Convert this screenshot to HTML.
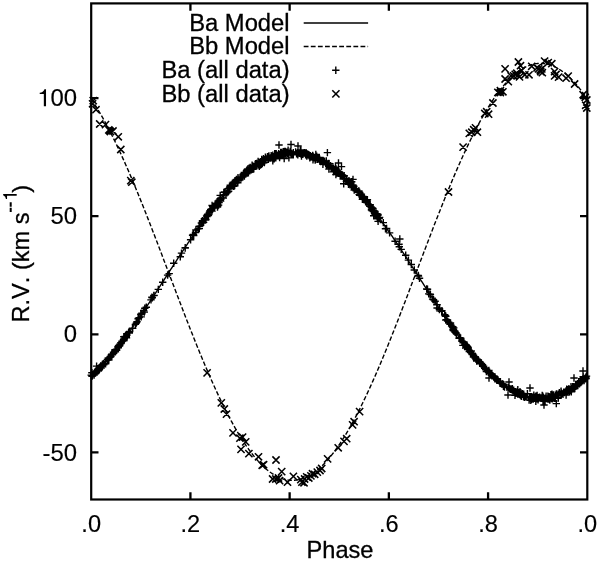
<!DOCTYPE html><html><head><meta charset="utf-8"><title>RV</title>
<style>html,body{margin:0;padding:0;background:#fff;}svg{display:block;will-change:transform;}text{font-kerning:none;font-family:"Liberation Sans",sans-serif;fill:#000;stroke:#000;stroke-width:0.15;}text.b{stroke-width:0.3;}</style></head><body>
<svg width="600" height="564" viewBox="0 0 600 564">
<rect x="0" y="0" width="600" height="564" fill="#fff"/>
<path d="M91.20,376.43 L92.44,375.30 L93.68,374.15 L94.92,372.98 L96.16,371.78 L97.40,370.56 L98.64,369.31 L99.88,368.04 L101.12,366.74 L102.36,365.43 L103.60,364.09 L104.84,362.72 L106.08,361.34 L107.32,359.94 L108.56,358.51 L109.80,357.06 L111.04,355.59 L112.28,354.11 L113.52,352.60 L114.76,351.07 L116.00,349.53 L117.25,347.97 L118.49,346.39 L119.73,344.79 L120.97,343.17 L122.21,341.54 L123.45,339.89 L124.69,338.23 L125.93,336.55 L127.17,334.85 L128.41,333.14 L129.65,331.42 L130.89,329.68 L132.13,327.93 L133.37,326.17 L134.61,324.40 L135.85,322.61 L137.09,320.81 L138.33,319.00 L139.57,317.18 L140.81,315.35 L142.05,313.52 L143.29,311.67 L144.53,309.81 L145.77,307.95 L147.01,306.08 L148.25,304.20 L149.49,302.31 L150.73,300.42 L151.97,298.52 L153.21,296.62 L154.45,294.72 L155.69,292.80 L156.93,290.89 L158.17,288.97 L159.41,287.05 L160.65,285.13 L161.89,283.20 L163.13,281.28 L164.37,279.35 L165.62,277.42 L166.86,275.50 L168.10,273.57 L169.34,271.64 L170.58,269.72 L171.82,267.80 L173.06,265.88 L174.30,263.96 L175.54,262.05 L176.78,260.14 L178.02,258.23 L179.26,256.33 L180.50,254.44 L181.74,252.55 L182.98,250.67 L184.22,248.79 L185.46,246.92 L186.70,245.06 L187.94,243.21 L189.18,241.36 L190.42,239.53 L191.66,237.70 L192.90,235.88 L194.14,234.08 L195.38,232.28 L196.62,230.50 L197.86,228.72 L199.10,226.96 L200.34,225.21 L201.58,223.47 L202.82,221.75 L204.06,220.04 L205.30,218.35 L206.54,216.66 L207.78,215.00 L209.02,213.35 L210.26,211.71 L211.50,210.09 L212.74,208.48 L213.98,206.90 L215.22,205.33 L216.47,203.77 L217.71,202.24 L218.95,200.72 L220.19,199.22 L221.43,197.74 L222.67,196.28 L223.91,194.84 L225.15,193.42 L226.39,192.02 L227.63,190.63 L228.87,189.27 L230.11,187.93 L231.35,186.62 L232.59,185.32 L233.83,184.04 L235.07,182.79 L236.31,181.56 L237.55,180.35 L238.79,179.17 L240.03,178.01 L241.27,176.87 L242.51,175.76 L243.75,174.67 L244.99,173.60 L246.23,172.56 L247.47,171.55 L248.71,170.56 L249.95,169.59 L251.19,168.65 L252.43,167.74 L253.67,166.85 L254.91,165.98 L256.15,165.15 L257.39,164.34 L258.63,163.55 L259.87,162.80 L261.11,162.07 L262.35,161.37 L263.59,160.69 L264.83,160.04 L266.08,159.42 L267.32,158.83 L268.56,158.26 L269.80,157.73 L271.04,157.22 L272.28,156.74 L273.52,156.28 L274.76,155.86 L276.00,155.46 L277.24,155.10 L278.48,154.76 L279.72,154.45 L280.96,154.17 L282.20,153.92 L283.44,153.69 L284.68,153.50 L285.92,153.33 L287.16,153.20 L288.40,153.09 L289.64,153.01 L290.88,152.96 L292.12,152.94 L293.36,152.95 L294.60,152.99 L295.84,153.05 L297.08,153.15 L298.32,153.27 L299.56,153.43 L300.80,153.61 L302.04,153.82 L303.28,154.06 L304.52,154.33 L305.76,154.63 L307.00,154.96 L308.24,155.31 L309.48,155.70 L310.72,156.11 L311.96,156.55 L313.20,157.02 L314.44,157.52 L315.69,158.05 L316.93,158.60 L318.17,159.18 L319.41,159.79 L320.65,160.43 L321.89,161.09 L323.13,161.78 L324.37,162.50 L325.61,163.25 L326.85,164.02 L328.09,164.82 L329.33,165.65 L330.57,166.50 L331.81,167.38 L333.05,168.28 L334.29,169.21 L335.53,170.17 L336.77,171.15 L338.01,172.15 L339.25,173.18 L340.49,174.24 L341.73,175.32 L342.97,176.42 L344.21,177.55 L345.45,178.70 L346.69,179.88 L347.93,181.08 L349.17,182.30 L350.41,183.54 L351.65,184.81 L352.89,186.09 L354.13,187.40 L355.37,188.74 L356.61,190.09 L357.85,191.46 L359.09,192.85 L360.33,194.27 L361.57,195.70 L362.81,197.15 L364.06,198.63 L365.30,200.12 L366.54,201.63 L367.78,203.16 L369.02,204.70 L370.26,206.27 L371.50,207.85 L372.74,209.45 L373.98,211.06 L375.22,212.69 L376.46,214.33 L377.70,216.00 L378.94,217.67 L380.18,219.36 L381.42,221.07 L382.66,222.78 L383.90,224.52 L385.14,226.26 L386.38,228.02 L387.62,229.79 L388.86,231.57 L390.10,233.36 L391.34,235.16 L392.58,236.97 L393.82,238.80 L395.06,240.63 L396.30,242.47 L397.54,244.32 L398.78,246.18 L400.02,248.04 L401.26,249.92 L402.50,251.80 L403.74,253.68 L404.98,255.58 L406.22,257.47 L407.46,259.38 L408.70,261.28 L409.94,263.20 L411.18,265.11 L412.42,267.03 L413.66,268.95 L414.91,270.87 L416.15,272.80 L417.39,274.72 L418.63,276.65 L419.87,278.58 L421.11,280.51 L422.35,282.43 L423.59,284.36 L424.83,286.28 L426.07,288.20 L427.31,290.12 L428.55,292.04 L429.79,293.95 L431.03,295.86 L432.27,297.76 L433.51,299.66 L434.75,301.56 L435.99,303.44 L437.23,305.33 L438.47,307.20 L439.71,309.07 L440.95,310.93 L442.19,312.78 L443.43,314.62 L444.67,316.45 L445.91,318.28 L447.15,320.09 L448.39,321.89 L449.63,323.68 L450.87,325.46 L452.11,327.23 L453.35,328.98 L454.59,330.73 L455.83,332.45 L457.07,334.17 L458.31,335.87 L459.55,337.56 L460.79,339.23 L462.03,340.88 L463.27,342.52 L464.52,344.14 L465.76,345.75 L467.00,347.34 L468.24,348.91 L469.48,350.46 L470.72,351.99 L471.96,353.51 L473.20,355.00 L474.44,356.48 L475.68,357.93 L476.92,359.37 L478.16,360.78 L479.40,362.17 L480.64,363.54 L481.88,364.89 L483.12,366.22 L484.36,367.52 L485.60,368.80 L486.84,370.06 L488.08,371.29 L489.32,372.50 L490.56,373.69 L491.80,374.85 L493.04,375.98 L494.28,377.09 L495.52,378.18 L496.76,379.23 L498.00,380.26 L499.24,381.27 L500.48,382.25 L501.72,383.20 L502.96,384.12 L504.20,385.02 L505.44,385.89 L506.68,386.73 L507.92,387.54 L509.16,388.32 L510.40,389.08 L511.64,389.80 L512.88,390.50 L514.13,391.17 L515.37,391.80 L516.61,392.41 L517.85,392.99 L519.09,393.54 L520.33,394.06 L521.57,394.54 L522.81,395.00 L524.05,395.43 L525.29,395.82 L526.53,396.19 L527.77,396.52 L529.01,396.83 L530.25,397.10 L531.49,397.34 L532.73,397.55 L533.97,397.73 L535.21,397.88 L536.45,397.99 L537.69,398.08 L538.93,398.13 L540.17,398.15 L541.41,398.14 L542.65,398.10 L543.89,398.03 L545.13,397.93 L546.37,397.79 L547.61,397.63 L548.85,397.43 L550.09,397.20 L551.33,396.94 L552.57,396.65 L553.81,396.33 L555.05,395.97 L556.29,395.59 L557.53,395.18 L558.77,394.73 L560.01,394.25 L561.25,393.75 L562.50,393.21 L563.74,392.65 L564.98,392.05 L566.22,391.42 L567.46,390.77 L568.70,390.08 L569.94,389.37 L571.18,388.63 L572.42,387.86 L573.66,387.05 L574.90,386.23 L576.14,385.37 L577.38,384.48 L578.62,383.57 L579.86,382.63 L581.10,381.66 L582.34,380.67 L583.58,379.65 L584.82,378.60 L586.06,377.53 L587.30,376.43" fill="none" stroke="#000" stroke-width="1.4"/>
<path d="M91.20,99.04 L92.44,100.90 L93.68,102.79 L94.92,104.73 L96.16,106.71 L97.40,108.73 L98.64,110.79 L99.88,112.89 L101.12,115.03 L102.36,117.21 L103.60,119.42 L104.84,121.67 L106.08,123.96 L107.32,126.29 L108.56,128.65 L109.80,131.05 L111.04,133.48 L112.28,135.95 L113.52,138.45 L114.76,140.98 L116.00,143.55 L117.25,146.15 L118.49,148.78 L119.73,151.43 L120.97,154.12 L122.21,156.84 L123.45,159.59 L124.69,162.36 L125.93,165.16 L127.17,167.99 L128.41,170.84 L129.65,173.72 L130.89,176.62 L132.13,179.54 L133.37,182.49 L134.61,185.46 L135.85,188.45 L137.09,191.47 L138.33,194.50 L139.57,197.55 L140.81,200.62 L142.05,203.70 L143.29,206.81 L144.53,209.93 L145.77,213.06 L147.01,216.21 L148.25,219.37 L149.49,222.55 L150.73,225.74 L151.97,228.94 L153.21,232.15 L154.45,235.37 L155.69,238.60 L156.93,241.83 L158.17,245.08 L159.41,248.33 L160.65,251.59 L161.89,254.85 L163.13,258.12 L164.37,261.38 L165.62,264.66 L166.86,267.93 L168.10,271.21 L169.34,274.48 L170.58,277.76 L171.82,281.03 L173.06,284.30 L174.30,287.57 L175.54,290.83 L176.78,294.09 L178.02,297.34 L179.26,300.59 L180.50,303.83 L181.74,307.06 L182.98,310.29 L184.22,313.50 L185.46,316.71 L186.70,319.90 L187.94,323.08 L189.18,326.25 L190.42,329.40 L191.66,332.54 L192.90,335.67 L194.14,338.78 L195.38,341.87 L196.62,344.95 L197.86,348.01 L199.10,351.05 L200.34,354.07 L201.58,357.07 L202.82,360.04 L204.06,363.00 L205.30,365.94 L206.54,368.85 L207.78,371.73 L209.02,374.60 L210.26,377.43 L211.50,380.24 L212.74,383.03 L213.98,385.79 L215.22,388.52 L216.47,391.22 L217.71,393.89 L218.95,396.53 L220.19,399.14 L221.43,401.71 L222.67,404.26 L223.91,406.77 L225.15,409.25 L226.39,411.70 L227.63,414.11 L228.87,416.49 L230.11,418.83 L231.35,421.14 L232.59,423.40 L233.83,425.64 L235.07,427.83 L236.31,429.98 L237.55,432.10 L238.79,434.17 L240.03,436.21 L241.27,438.20 L242.51,440.16 L243.75,442.07 L244.99,443.94 L246.23,445.77 L247.47,447.55 L248.71,449.30 L249.95,450.99 L251.19,452.65 L252.43,454.26 L253.67,455.82 L254.91,457.34 L256.15,458.81 L257.39,460.24 L258.63,461.62 L259.87,462.96 L261.11,464.24 L262.35,465.48 L263.59,466.67 L264.83,467.82 L266.08,468.91 L267.32,469.96 L268.56,470.95 L269.80,471.90 L271.04,472.80 L272.28,473.65 L273.52,474.45 L274.76,475.20 L276.00,475.90 L277.24,476.55 L278.48,477.15 L279.72,477.69 L280.96,478.19 L282.20,478.64 L283.44,479.03 L284.68,479.38 L285.92,479.67 L287.16,479.91 L288.40,480.10 L289.64,480.24 L290.88,480.33 L292.12,480.36 L293.36,480.35 L294.60,480.28 L295.84,480.16 L297.08,479.99 L298.32,479.77 L299.56,479.50 L300.80,479.18 L302.04,478.80 L303.28,478.38 L304.52,477.90 L305.76,477.37 L307.00,476.79 L308.24,476.16 L309.48,475.49 L310.72,474.76 L311.96,473.98 L313.20,473.15 L314.44,472.27 L315.69,471.34 L316.93,470.36 L318.17,469.33 L319.41,468.26 L320.65,467.14 L321.89,465.96 L323.13,464.74 L324.37,463.48 L325.61,462.16 L326.85,460.80 L328.09,459.39 L329.33,457.94 L330.57,456.44 L331.81,454.89 L333.05,453.30 L334.29,451.66 L335.53,449.98 L336.77,448.26 L338.01,446.49 L339.25,444.68 L340.49,442.82 L341.73,440.93 L342.97,438.99 L344.21,437.01 L345.45,434.99 L346.69,432.93 L347.93,430.83 L349.17,428.69 L350.41,426.52 L351.65,424.30 L352.89,422.05 L354.13,419.76 L355.37,417.43 L356.61,415.07 L357.85,412.67 L359.09,410.24 L360.33,407.77 L361.57,405.27 L362.81,402.74 L364.06,400.17 L365.30,397.57 L366.54,394.95 L367.78,392.29 L369.02,389.60 L370.26,386.88 L371.50,384.14 L372.74,381.36 L373.98,378.56 L375.22,375.73 L376.46,372.88 L377.70,370.00 L378.94,367.10 L380.18,364.18 L381.42,361.23 L382.66,358.26 L383.90,355.27 L385.14,352.26 L386.38,349.22 L387.62,346.17 L388.86,343.11 L390.10,340.02 L391.34,336.91 L392.58,333.80 L393.82,330.66 L395.06,327.51 L396.30,324.35 L397.54,321.17 L398.78,317.98 L400.02,314.78 L401.26,311.57 L402.50,308.35 L403.74,305.12 L404.98,301.89 L406.22,298.64 L407.46,295.39 L408.70,292.13 L409.94,288.87 L411.18,285.61 L412.42,282.34 L413.66,279.06 L414.91,275.79 L416.15,272.52 L417.39,269.24 L418.63,265.97 L419.87,262.69 L421.11,259.42 L422.35,256.16 L423.59,252.89 L424.83,249.63 L426.07,246.38 L427.31,243.13 L428.55,239.89 L429.79,236.66 L431.03,233.43 L432.27,230.22 L433.51,227.02 L434.75,223.82 L435.99,220.64 L437.23,217.47 L438.47,214.32 L439.71,211.18 L440.95,208.05 L442.19,204.94 L443.43,201.85 L444.67,198.77 L445.91,195.72 L447.15,192.68 L448.39,189.66 L449.63,186.66 L450.87,183.68 L452.11,180.72 L453.35,177.79 L454.59,174.88 L455.83,171.99 L457.07,169.13 L458.31,166.29 L459.55,163.48 L460.79,160.69 L462.03,157.94 L463.27,155.21 L464.52,152.51 L465.76,149.84 L467.00,147.20 L468.24,144.59 L469.48,142.01 L470.72,139.46 L471.96,136.95 L473.20,134.47 L474.44,132.02 L475.68,129.61 L476.92,127.23 L478.16,124.89 L479.40,122.59 L480.64,120.32 L481.88,118.09 L483.12,115.89 L484.36,113.74 L485.60,111.62 L486.84,109.55 L488.08,107.51 L489.32,105.52 L490.56,103.56 L491.80,101.65 L493.04,99.78 L494.28,97.95 L495.52,96.17 L496.76,94.43 L498.00,92.73 L499.24,91.07 L500.48,89.46 L501.72,87.90 L502.96,86.38 L504.20,84.91 L505.44,83.48 L506.68,82.10 L507.92,80.77 L509.16,79.48 L510.40,78.24 L511.64,77.05 L512.88,75.91 L514.13,74.81 L515.37,73.77 L516.61,72.77 L517.85,71.82 L519.09,70.92 L520.33,70.07 L521.57,69.27 L522.81,68.52 L524.05,67.82 L525.29,67.17 L526.53,66.58 L527.77,66.03 L529.01,65.53 L530.25,65.08 L531.49,64.69 L532.73,64.35 L533.97,64.05 L535.21,63.81 L536.45,63.62 L537.69,63.48 L538.93,63.39 L540.17,63.36 L541.41,63.37 L542.65,63.44 L543.89,63.56 L545.13,63.73 L546.37,63.95 L547.61,64.22 L548.85,64.55 L550.09,64.92 L551.33,65.35 L552.57,65.82 L553.81,66.35 L555.05,66.93 L556.29,67.56 L557.53,68.24 L558.77,68.97 L560.01,69.75 L561.25,70.58 L562.50,71.45 L563.74,72.38 L564.98,73.36 L566.22,74.39 L567.46,75.46 L568.70,76.59 L569.94,77.76 L571.18,78.98 L572.42,80.25 L573.66,81.56 L574.90,82.92 L576.14,84.33 L577.38,85.79 L578.62,87.29 L579.86,88.83 L581.10,90.42 L582.34,92.06 L583.58,93.74 L584.82,95.47 L586.06,97.23 L587.30,99.04" fill="none" stroke="#000" stroke-width="1.4" stroke-dasharray="4.4 2.1"/>
<path d="M105.1,360.0h7.4M108.8,356.3v7.4M107.2,356.4h7.4M110.9,352.7v7.4M94.7,370.7h7.4M98.4,367.0v7.4M91.2,373.1h7.4M94.9,369.4v7.4M91.0,372.7h7.4M94.7,369.0v7.4M125.6,333.0h7.4M129.3,329.3v7.4M112.9,350.3h7.4M116.6,346.6v7.4M108.0,354.3h7.4M111.7,350.6v7.4M88.7,375.2h7.4M92.4,371.5v7.4M104.6,358.3h7.4M108.3,354.6v7.4M106.9,356.9h7.4M110.6,353.2v7.4M105.2,358.6h7.4M108.9,354.9v7.4M120.1,336.7h7.4M123.8,333.0v7.4M99.7,364.2h7.4M103.4,360.5v7.4M117.2,342.6h7.4M120.9,338.9v7.4M120.3,340.6h7.4M124.0,336.9v7.4M87.5,375.1h7.4M91.2,371.4v7.4M122.8,337.9h7.4M126.5,334.2v7.4M90.3,373.4h7.4M94.0,369.7v7.4M117.7,342.6h7.4M121.4,338.9v7.4M124.9,332.5h7.4M128.6,328.8v7.4M92.1,372.1h7.4M95.8,368.4v7.4M118.4,341.3h7.4M122.1,337.6v7.4M109.2,353.9h7.4M112.9,350.2v7.4M92.6,371.5h7.4M96.3,367.8v7.4M92.0,372.7h7.4M95.7,369.0v7.4M125.2,332.2h7.4M128.9,328.5v7.4M99.3,364.3h7.4M103.0,360.6v7.4M120.6,339.0h7.4M124.3,335.3v7.4M91.4,372.3h7.4M95.1,368.6v7.4M117.5,342.9h7.4M121.2,339.2v7.4M99.0,364.8h7.4M102.7,361.1v7.4M96.9,367.1h7.4M100.6,363.4v7.4M101.9,363.8h7.4M105.6,360.1v7.4M109.8,352.1h7.4M113.5,348.4v7.4M94.6,368.7h7.4M98.3,365.0v7.4M97.2,365.6h7.4M100.9,361.9v7.4M116.2,344.1h7.4M119.9,340.4v7.4M121.7,337.4h7.4M125.4,333.7v7.4M103.9,359.5h7.4M107.6,355.8v7.4M96.8,367.3h7.4M100.5,363.6v7.4M97.5,366.2h7.4M101.2,362.5v7.4M94.3,370.9h7.4M98.0,367.2v7.4M90.2,373.8h7.4M93.9,370.1v7.4M111.3,349.7h7.4M115.0,346.0v7.4M123.1,335.3h7.4M126.8,331.6v7.4M104.8,358.5h7.4M108.5,354.8v7.4M94.3,370.6h7.4M98.0,366.9v7.4M101.6,361.5h7.4M105.3,357.8v7.4M125.5,332.7h7.4M129.2,329.0v7.4M92.9,366.1h7.4M96.6,362.4v7.4M114.7,346.3h7.4M118.4,342.6v7.4M88.3,376.3h7.4M92.0,372.6v7.4M99.9,364.8h7.4M103.6,361.1v7.4M90.4,375.0h7.4M94.1,371.3v7.4M116.1,345.1h7.4M119.8,341.4v7.4M118.3,341.2h7.4M122.0,337.5v7.4M122.5,336.6h7.4M126.2,332.9v7.4M103.7,359.5h7.4M107.4,355.8v7.4M111.7,351.8h7.4M115.4,348.1v7.4M110.1,352.5h7.4M113.8,348.8v7.4M126.0,331.5h7.4M129.7,327.8v7.4M115.8,346.1h7.4M119.5,342.4v7.4M104.6,358.0h7.4M108.3,354.3v7.4M90.8,373.4h7.4M94.5,369.7v7.4M106.2,357.2h7.4M109.9,353.5v7.4M114.6,347.7h7.4M118.3,344.0v7.4M97.4,368.1h7.4M101.1,364.4v7.4M95.4,367.7h7.4M99.1,364.0v7.4M122.6,336.4h7.4M126.3,332.7v7.4M100.2,364.5h7.4M103.9,360.8v7.4M95.2,370.4h7.4M98.9,366.7v7.4M121.7,336.7h7.4M125.4,333.0v7.4M110.1,352.4h7.4M113.8,348.7v7.4M120.0,339.2h7.4M123.7,335.5v7.4M115.1,345.4h7.4M118.8,341.7v7.4M105.0,358.6h7.4M108.7,354.9v7.4M95.8,369.4h7.4M99.5,365.7v7.4M99.7,363.7h7.4M103.4,360.0v7.4M125.6,331.9h7.4M129.3,328.2v7.4M121.4,336.5h7.4M125.1,332.8v7.4M99.5,364.2h7.4M103.2,360.5v7.4M88.2,372.8h7.4M91.9,369.1v7.4M119.7,339.9h7.4M123.4,336.2v7.4M111.9,349.6h7.4M115.6,345.9v7.4M128.8,328.2h7.4M132.5,324.5v7.4M129.0,328.3h7.4M132.7,324.6v7.4M135.5,317.6h7.4M139.2,313.9v7.4M138.2,313.7h7.4M141.9,310.0v7.4M133.3,321.7h7.4M137.0,318.0v7.4M137.1,314.3h7.4M140.8,310.6v7.4M134.6,318.5h7.4M138.3,314.8v7.4M140.6,312.1h7.4M144.3,308.4v7.4M131.7,324.4h7.4M135.4,320.7v7.4M134.4,318.9h7.4M138.1,315.2v7.4M140.0,310.5h7.4M143.7,306.8v7.4M137.5,316.9h7.4M141.2,313.2v7.4M138.2,313.1h7.4M141.9,309.4v7.4M132.6,323.1h7.4M136.3,319.4v7.4M141.1,308.3h7.4M144.8,304.6v7.4M142.6,307.3h7.4M146.3,303.6v7.4M150.4,295.4h7.4M154.1,291.7v7.4M148.6,297.7h7.4M152.3,294.0v7.4M148.2,297.2h7.4M151.9,293.5v7.4M150.1,295.5h7.4M153.8,291.8v7.4M147.3,299.9h7.4M151.0,296.2v7.4M159.0,282.3h7.4M162.7,278.6v7.4M163.9,275.1h7.4M167.6,271.4v7.4M165.5,273.6h7.4M169.2,269.9v7.4M154.6,289.4h7.4M158.3,285.7v7.4M177.8,253.1h7.4M181.5,249.4v7.4M181.5,248.1h7.4M185.2,244.4v7.4M181.5,247.6h7.4M185.2,243.9v7.4M170.0,263.3h7.4M173.7,259.6v7.4M176.6,256.8h7.4M180.3,253.1v7.4M195.6,228.6h7.4M199.3,224.9v7.4M204.7,215.5h7.4M208.4,211.8v7.4M196.1,226.1h7.4M199.8,222.4v7.4M198.8,220.7h7.4M202.5,217.0v7.4M204.4,213.9h7.4M208.1,210.2v7.4M190.0,235.5h7.4M193.7,231.8v7.4M201.4,218.5h7.4M205.1,214.8v7.4M194.3,228.9h7.4M198.0,225.2v7.4M203.7,214.7h7.4M207.4,211.0v7.4M200.7,218.8h7.4M204.4,215.1v7.4M198.7,222.2h7.4M202.4,218.5v7.4M191.8,232.6h7.4M195.5,228.9v7.4M186.9,239.7h7.4M190.6,236.0v7.4M189.6,234.8h7.4M193.3,231.1v7.4M192.2,230.0h7.4M195.9,226.3v7.4M195.4,226.5h7.4M199.1,222.8v7.4M197.7,223.0h7.4M201.4,219.3v7.4M202.2,219.5h7.4M205.9,215.8v7.4M199.9,222.4h7.4M203.6,218.7v7.4M203.3,216.6h7.4M207.0,212.9v7.4M188.9,235.3h7.4M192.6,231.6v7.4M202.9,215.9h7.4M206.6,212.2v7.4M189.7,234.4h7.4M193.4,230.7v7.4M201.8,220.1h7.4M205.5,216.4v7.4M211.7,203.9h7.4M215.4,200.2v7.4M205.6,212.4h7.4M209.3,208.7v7.4M220.8,192.1h7.4M224.5,188.4v7.4M213.4,202.9h7.4M217.1,199.2v7.4M208.3,211.1h7.4M212.0,207.4v7.4M207.0,209.4h7.4M210.7,205.7v7.4M214.4,201.3h7.4M218.1,197.6v7.4M208.3,208.7h7.4M212.0,205.0v7.4M220.1,192.4h7.4M223.8,188.7v7.4M206.3,210.6h7.4M210.0,206.9v7.4M210.5,207.1h7.4M214.2,203.4v7.4M213.5,202.9h7.4M217.2,199.2v7.4M216.5,198.7h7.4M220.2,195.0v7.4M217.1,199.2h7.4M220.8,195.5v7.4M208.4,205.5h7.4M212.1,201.8v7.4M219.6,194.9h7.4M223.3,191.2v7.4M215.4,202.6h7.4M219.1,198.9v7.4M214.9,205.1h7.4M218.6,201.4v7.4M209.4,208.1h7.4M213.1,204.4v7.4M217.2,197.9h7.4M220.9,194.2v7.4M219.6,198.0h7.4M223.3,194.3v7.4M216.4,199.0h7.4M220.1,195.3v7.4M216.9,201.1h7.4M220.6,197.4v7.4M210.8,206.5h7.4M214.5,202.8v7.4M215.5,200.3h7.4M219.2,196.6v7.4M209.0,206.6h7.4M212.7,202.9v7.4M215.9,200.7h7.4M219.6,197.0v7.4M213.8,207.0h7.4M217.5,203.3v7.4M216.5,195.4h7.4M220.2,191.7v7.4M221.0,192.0h7.4M224.7,188.3v7.4M209.4,207.7h7.4M213.1,204.0v7.4M206.1,211.9h7.4M209.8,208.2v7.4M209.3,206.9h7.4M213.0,203.2v7.4M214.1,205.8h7.4M217.8,202.1v7.4M375.5,218.3h7.4M379.2,214.6v7.4M346.8,181.9h7.4M350.5,178.2v7.4M228.3,185.0h7.4M232.0,181.3v7.4M246.1,170.6h7.4M249.8,166.9v7.4M316.0,159.8h7.4M319.7,156.1v7.4M367.8,209.4h7.4M371.5,205.7v7.4M278.0,153.2h7.4M281.7,149.5v7.4M322.8,164.9h7.4M326.5,161.2v7.4M267.2,157.7h7.4M270.9,154.0v7.4M245.6,169.7h7.4M249.3,166.0v7.4M281.7,151.5h7.4M285.4,147.8v7.4M374.6,218.2h7.4M378.3,214.5v7.4M232.7,180.2h7.4M236.4,176.5v7.4M372.1,214.4h7.4M375.8,210.7v7.4M302.4,152.6h7.4M306.1,148.9v7.4M373.0,215.6h7.4M376.7,211.9v7.4M314.9,157.9h7.4M318.6,154.2v7.4M252.9,163.5h7.4M256.6,159.8v7.4M303.2,153.8h7.4M306.9,150.1v7.4M291.9,151.9h7.4M295.6,148.2v7.4M311.5,160.1h7.4M315.2,156.4v7.4M375.9,217.4h7.4M379.6,213.7v7.4M335.1,172.8h7.4M338.8,169.1v7.4M342.9,179.0h7.4M346.6,175.3v7.4M277.0,154.5h7.4M280.7,150.8v7.4M313.0,156.3h7.4M316.7,152.6v7.4M338.1,174.9h7.4M341.8,171.2v7.4M363.2,201.1h7.4M366.9,197.4v7.4M227.4,185.8h7.4M231.1,182.1v7.4M317.9,160.5h7.4M321.6,156.8v7.4M305.3,155.0h7.4M309.0,151.3v7.4M306.6,155.7h7.4M310.3,152.0v7.4M279.1,154.8h7.4M282.8,151.1v7.4M336.7,174.1h7.4M340.4,170.4v7.4M232.8,179.4h7.4M236.5,175.7v7.4M340.5,175.7h7.4M344.2,172.0v7.4M287.1,153.1h7.4M290.8,149.4v7.4M322.6,161.0h7.4M326.3,157.3v7.4M271.7,157.9h7.4M275.4,154.2v7.4M287.6,153.7h7.4M291.3,150.0v7.4M236.3,177.6h7.4M240.0,173.9v7.4M308.8,157.1h7.4M312.5,153.4v7.4M327.5,167.7h7.4M331.2,164.0v7.4M254.4,161.5h7.4M258.1,157.8v7.4M234.0,181.0h7.4M237.7,177.3v7.4M265.2,155.9h7.4M268.9,152.2v7.4M276.8,154.5h7.4M280.5,150.8v7.4M331.2,171.1h7.4M334.9,167.4v7.4M363.7,199.7h7.4M367.4,196.0v7.4M345.8,183.8h7.4M349.5,180.1v7.4M270.5,158.8h7.4M274.2,155.1v7.4M259.8,158.7h7.4M263.5,155.0v7.4M278.0,155.0h7.4M281.7,151.3v7.4M251.5,164.7h7.4M255.2,161.0v7.4M344.8,184.3h7.4M348.5,180.6v7.4M248.7,168.5h7.4M252.4,164.8v7.4M357.8,195.7h7.4M361.5,192.0v7.4M305.6,155.4h7.4M309.3,151.7v7.4M371.1,213.7h7.4M374.8,210.0v7.4M306.1,157.9h7.4M309.8,154.2v7.4M234.3,177.8h7.4M238.0,174.1v7.4M234.4,178.6h7.4M238.1,174.9v7.4M243.6,171.7h7.4M247.3,168.0v7.4M255.5,165.3h7.4M259.2,161.6v7.4M302.1,154.5h7.4M305.8,150.8v7.4M371.4,214.0h7.4M375.1,210.3v7.4M297.8,156.0h7.4M301.5,152.3v7.4M363.1,202.5h7.4M366.8,198.8v7.4M349.4,187.7h7.4M353.1,184.0v7.4M350.5,190.0h7.4M354.2,186.3v7.4M369.8,211.5h7.4M373.5,207.8v7.4M345.6,183.8h7.4M349.3,180.1v7.4M286.5,151.5h7.4M290.2,147.8v7.4M279.5,151.8h7.4M283.2,148.1v7.4M253.0,165.9h7.4M256.7,162.2v7.4M230.5,183.1h7.4M234.2,179.4v7.4M239.1,177.0h7.4M242.8,173.3v7.4M231.0,185.2h7.4M234.7,181.5v7.4M311.8,157.6h7.4M315.5,153.9v7.4M249.9,167.1h7.4M253.6,163.4v7.4M257.8,162.3h7.4M261.5,158.6v7.4M250.0,168.8h7.4M253.7,165.1v7.4M248.0,168.2h7.4M251.7,164.5v7.4M348.0,186.1h7.4M351.7,182.4v7.4M261.7,157.3h7.4M265.4,153.6v7.4M306.1,157.9h7.4M309.8,154.2v7.4M296.1,153.4h7.4M299.8,149.7v7.4M345.5,181.9h7.4M349.2,178.2v7.4M303.1,156.1h7.4M306.8,152.4v7.4M323.2,164.2h7.4M326.9,160.5v7.4M223.0,193.1h7.4M226.7,189.4v7.4M331.9,170.0h7.4M335.6,166.3v7.4M245.7,169.3h7.4M249.4,165.6v7.4M356.0,192.5h7.4M359.7,188.8v7.4M320.0,161.0h7.4M323.7,157.3v7.4M244.7,170.9h7.4M248.4,167.2v7.4M221.5,192.1h7.4M225.2,188.4v7.4M234.1,182.7h7.4M237.8,179.0v7.4M332.4,169.2h7.4M336.1,165.5v7.4M369.4,209.0h7.4M373.1,205.3v7.4M354.2,192.3h7.4M357.9,188.6v7.4M363.4,199.9h7.4M367.1,196.2v7.4M349.4,185.8h7.4M353.1,182.1v7.4M245.7,168.2h7.4M249.4,164.5v7.4M269.6,156.6h7.4M273.3,152.9v7.4M293.7,152.6h7.4M297.4,148.9v7.4M277.1,154.5h7.4M280.8,150.8v7.4M292.9,153.7h7.4M296.6,150.0v7.4M349.9,187.0h7.4M353.6,183.3v7.4M331.4,170.0h7.4M335.1,166.3v7.4M308.7,156.9h7.4M312.4,153.2v7.4M345.2,182.0h7.4M348.9,178.3v7.4M316.8,160.7h7.4M320.5,157.0v7.4M267.5,155.8h7.4M271.2,152.1v7.4M282.1,153.9h7.4M285.8,150.2v7.4M334.7,173.4h7.4M338.4,169.7v7.4M367.8,210.0h7.4M371.5,206.3v7.4M349.5,187.3h7.4M353.2,183.6v7.4M243.1,170.3h7.4M246.8,166.6v7.4M249.2,166.2h7.4M252.9,162.5v7.4M351.0,188.6h7.4M354.7,184.9v7.4M245.6,170.4h7.4M249.3,166.7v7.4M284.4,150.2h7.4M288.1,146.5v7.4M300.6,152.8h7.4M304.3,149.1v7.4M340.2,176.6h7.4M343.9,172.9v7.4M285.2,157.9h7.4M288.9,154.2v7.4M373.5,214.0h7.4M377.2,210.3v7.4M323.6,164.6h7.4M327.3,160.9v7.4M274.3,155.1h7.4M278.0,151.4v7.4M237.8,177.9h7.4M241.5,174.2v7.4M349.2,184.9h7.4M352.9,181.2v7.4M245.8,169.6h7.4M249.5,165.9v7.4M275.9,157.6h7.4M279.6,153.9v7.4M243.3,172.9h7.4M247.0,169.2v7.4M332.2,174.6h7.4M335.9,170.9v7.4M251.9,163.6h7.4M255.6,159.9v7.4M234.2,180.7h7.4M237.9,177.0v7.4M310.7,157.9h7.4M314.4,154.2v7.4M277.3,155.4h7.4M281.0,151.7v7.4M240.5,173.5h7.4M244.2,169.8v7.4M305.5,155.7h7.4M309.2,152.0v7.4M308.2,156.8h7.4M311.9,153.1v7.4M348.0,181.7h7.4M351.7,178.0v7.4M240.3,173.9h7.4M244.0,170.2v7.4M258.6,162.4h7.4M262.3,158.7v7.4M350.1,186.3h7.4M353.8,182.6v7.4M226.3,186.4h7.4M230.0,182.7v7.4M374.3,214.4h7.4M378.0,210.7v7.4M325.3,166.2h7.4M329.0,162.5v7.4M280.5,158.6h7.4M284.2,154.9v7.4M252.2,166.1h7.4M255.9,162.4v7.4M309.6,156.9h7.4M313.3,153.2v7.4M301.9,154.7h7.4M305.6,151.0v7.4M320.8,161.4h7.4M324.5,157.7v7.4M370.0,211.4h7.4M373.7,207.7v7.4M294.1,154.9h7.4M297.8,151.2v7.4M338.8,174.9h7.4M342.5,171.2v7.4M296.6,150.8h7.4M300.3,147.1v7.4M284.7,153.2h7.4M288.4,149.5v7.4M309.0,155.4h7.4M312.7,151.7v7.4M288.3,153.9h7.4M292.0,150.2v7.4M271.0,153.7h7.4M274.7,150.0v7.4M334.8,171.7h7.4M338.5,168.0v7.4M337.8,175.8h7.4M341.5,172.1v7.4M240.6,172.4h7.4M244.3,168.7v7.4M299.2,154.4h7.4M302.9,150.7v7.4M302.9,154.6h7.4M306.6,150.9v7.4M268.8,157.5h7.4M272.5,153.8v7.4M362.6,200.6h7.4M366.3,196.9v7.4M324.5,163.9h7.4M328.2,160.2v7.4M255.7,164.2h7.4M259.4,160.5v7.4M309.2,156.3h7.4M312.9,152.6v7.4M240.5,174.7h7.4M244.2,171.0v7.4M368.7,207.9h7.4M372.4,204.2v7.4M271.6,155.7h7.4M275.3,152.0v7.4M360.0,197.7h7.4M363.7,194.0v7.4M312.1,159.4h7.4M315.8,155.7v7.4M226.1,187.2h7.4M229.8,183.5v7.4M366.1,206.4h7.4M369.8,202.7v7.4M294.6,152.9h7.4M298.3,149.2v7.4M360.3,197.4h7.4M364.0,193.7v7.4M351.2,189.2h7.4M354.9,185.5v7.4M357.7,194.1h7.4M361.4,190.4v7.4M252.6,165.7h7.4M256.3,162.0v7.4M229.1,185.9h7.4M232.8,182.2v7.4M333.8,172.9h7.4M337.5,169.2v7.4M331.8,167.3h7.4M335.5,163.6v7.4M329.2,166.7h7.4M332.9,163.0v7.4M255.9,163.6h7.4M259.6,159.9v7.4M331.4,169.6h7.4M335.1,165.9v7.4M324.3,163.9h7.4M328.0,160.2v7.4M279.0,155.4h7.4M282.7,151.7v7.4M256.8,165.0h7.4M260.5,161.3v7.4M364.9,204.8h7.4M368.6,201.1v7.4M235.2,180.0h7.4M238.9,176.3v7.4M289.6,154.7h7.4M293.3,151.0v7.4M314.3,159.4h7.4M318.0,155.7v7.4M260.2,160.3h7.4M263.9,156.6v7.4M338.4,176.3h7.4M342.1,172.6v7.4M264.6,159.3h7.4M268.3,155.6v7.4M374.4,221.4h7.4M378.1,217.7v7.4M280.9,152.9h7.4M284.6,149.2v7.4M298.8,153.1h7.4M302.5,149.4v7.4M277.0,152.5h7.4M280.7,148.8v7.4M342.7,181.3h7.4M346.4,177.6v7.4M327.4,167.0h7.4M331.1,163.3v7.4M368.8,208.0h7.4M372.5,204.3v7.4M315.6,157.5h7.4M319.3,153.8v7.4M289.6,152.6h7.4M293.3,148.9v7.4M257.9,164.3h7.4M261.6,160.6v7.4M255.6,166.3h7.4M259.3,162.6v7.4M313.8,159.3h7.4M317.5,155.6v7.4M249.2,169.2h7.4M252.9,165.5v7.4M224.1,192.0h7.4M227.8,188.3v7.4M262.1,159.5h7.4M265.8,155.8v7.4M232.5,180.1h7.4M236.2,176.4v7.4M344.0,181.9h7.4M347.7,178.2v7.4M244.0,171.5h7.4M247.7,167.8v7.4M317.6,160.4h7.4M321.3,156.7v7.4M262.3,160.0h7.4M266.0,156.3v7.4M247.9,168.7h7.4M251.6,165.0v7.4M246.1,170.7h7.4M249.8,167.0v7.4M230.8,185.9h7.4M234.5,182.2v7.4M277.8,153.2h7.4M281.5,149.5v7.4M297.2,149.9h7.4M300.9,146.2v7.4M374.2,215.2h7.4M377.9,211.5v7.4M227.4,185.6h7.4M231.1,181.9v7.4M359.3,196.4h7.4M363.0,192.7v7.4M287.1,151.8h7.4M290.8,148.1v7.4M226.6,185.3h7.4M230.3,181.6v7.4M256.9,162.4h7.4M260.6,158.7v7.4M306.8,156.0h7.4M310.5,152.3v7.4M277.7,152.5h7.4M281.4,148.8v7.4M373.4,215.5h7.4M377.1,211.8v7.4M322.0,163.6h7.4M325.7,159.9v7.4M274.5,155.8h7.4M278.2,152.1v7.4M358.7,199.4h7.4M362.4,195.7v7.4M282.2,152.5h7.4M285.9,148.8v7.4M254.7,164.9h7.4M258.4,161.2v7.4M249.8,167.8h7.4M253.5,164.1v7.4M254.5,164.1h7.4M258.2,160.4v7.4M269.1,160.9h7.4M272.8,157.2v7.4M355.0,190.9h7.4M358.7,187.2v7.4M280.7,151.5h7.4M284.4,147.8v7.4M263.9,156.8h7.4M267.6,153.1v7.4M282.2,152.3h7.4M285.9,148.6v7.4M332.2,170.6h7.4M335.9,166.9v7.4M366.5,204.8h7.4M370.2,201.1v7.4M340.0,183.7h7.4M343.7,180.0v7.4M271.2,156.3h7.4M274.9,152.6v7.4M271.7,155.2h7.4M275.4,151.5v7.4M301.8,153.2h7.4M305.5,149.5v7.4M227.6,186.1h7.4M231.3,182.4v7.4M313.6,157.5h7.4M317.3,153.8v7.4M305.6,155.4h7.4M309.3,151.7v7.4M330.8,169.5h7.4M334.5,165.8v7.4M244.1,168.9h7.4M247.8,165.2v7.4M264.8,158.7h7.4M268.5,155.0v7.4M355.5,194.4h7.4M359.2,190.7v7.4M266.6,158.1h7.4M270.3,154.4v7.4M225.1,188.5h7.4M228.8,184.8v7.4M309.0,155.4h7.4M312.7,151.7v7.4M325.2,169.1h7.4M328.9,165.4v7.4M254.8,164.4h7.4M258.5,160.7v7.4M355.9,195.4h7.4M359.6,191.7v7.4M319.3,160.4h7.4M323.0,156.7v7.4M230.6,182.7h7.4M234.3,179.0v7.4M272.2,156.7h7.4M275.9,153.0v7.4M283.7,153.2h7.4M287.4,149.5v7.4M247.1,169.5h7.4M250.8,165.8v7.4M274.3,155.8h7.4M278.0,152.1v7.4M244.7,172.8h7.4M248.4,169.1v7.4M329.8,171.9h7.4M333.5,168.2v7.4M231.1,182.2h7.4M234.8,178.5v7.4M229.8,186.3h7.4M233.5,182.6v7.4M271.8,155.6h7.4M275.5,151.9v7.4M224.9,191.3h7.4M228.6,187.6v7.4M261.9,157.2h7.4M265.6,153.5v7.4M250.1,168.7h7.4M253.8,165.0v7.4M277.5,153.7h7.4M281.2,150.0v7.4M367.4,207.0h7.4M371.1,203.3v7.4M285.0,155.1h7.4M288.7,151.4v7.4M264.1,157.2h7.4M267.8,153.5v7.4M362.3,201.4h7.4M366.0,197.7v7.4M269.1,155.2h7.4M272.8,151.5v7.4M372.7,213.7h7.4M376.4,210.0v7.4M326.7,165.6h7.4M330.4,161.9v7.4M221.4,194.8h7.4M225.1,191.1v7.4M297.8,154.1h7.4M301.5,150.4v7.4M306.3,157.2h7.4M310.0,153.5v7.4M371.5,213.9h7.4M375.2,210.2v7.4M275.0,153.7h7.4M278.7,150.0v7.4M329.1,168.9h7.4M332.8,165.2v7.4M370.7,211.2h7.4M374.4,207.5v7.4M297.4,154.4h7.4M301.1,150.7v7.4M278.6,154.4h7.4M282.3,150.7v7.4M258.0,159.4h7.4M261.7,155.7v7.4M271.7,154.9h7.4M275.4,151.2v7.4M231.1,181.5h7.4M234.8,177.8v7.4M237.1,177.5h7.4M240.8,173.8v7.4M341.0,178.7h7.4M344.7,175.0v7.4M246.5,167.4h7.4M250.2,163.7v7.4M260.7,162.5h7.4M264.4,158.8v7.4M344.8,183.4h7.4M348.5,179.7v7.4M332.2,169.0h7.4M335.9,165.3v7.4M273.0,155.1h7.4M276.7,151.4v7.4M309.3,159.7h7.4M313.0,156.0v7.4M330.9,171.4h7.4M334.6,167.7v7.4M240.7,176.0h7.4M244.4,172.3v7.4M325.1,163.4h7.4M328.8,159.7v7.4M312.1,154.5h7.4M315.8,150.8v7.4M327.9,168.6h7.4M331.6,164.9v7.4M319.2,164.3h7.4M322.9,160.6v7.4M228.8,183.3h7.4M232.5,179.6v7.4M239.7,173.9h7.4M243.4,170.2v7.4M375.3,217.5h7.4M379.0,213.8v7.4M272.5,153.6h7.4M276.2,149.9v7.4M279.2,153.5h7.4M282.9,149.8v7.4M345.4,181.6h7.4M349.1,177.9v7.4M317.1,161.5h7.4M320.8,157.8v7.4M373.4,216.8h7.4M377.1,213.1v7.4M345.3,180.7h7.4M349.0,177.0v7.4M248.4,165.3h7.4M252.1,161.6v7.4M297.0,151.5h7.4M300.7,147.8v7.4M271.5,153.9h7.4M275.2,150.2v7.4M318.2,160.9h7.4M321.9,157.2v7.4M256.6,163.9h7.4M260.3,160.2v7.4M229.2,184.8h7.4M232.9,181.1v7.4M359.7,198.0h7.4M363.4,194.3v7.4M296.2,152.9h7.4M299.9,149.2v7.4M252.6,163.9h7.4M256.3,160.2v7.4M346.4,184.4h7.4M350.1,180.7v7.4M230.2,186.0h7.4M233.9,182.3v7.4M264.3,159.2h7.4M268.0,155.5v7.4M355.3,191.2h7.4M359.0,187.5v7.4M333.7,171.7h7.4M337.4,168.0v7.4M225.5,188.6h7.4M229.2,184.9v7.4M276.9,153.6h7.4M280.6,149.9v7.4M269.4,156.7h7.4M273.1,153.0v7.4M370.0,215.8h7.4M373.7,212.1v7.4M344.1,181.4h7.4M347.8,177.7v7.4M283.2,152.3h7.4M286.9,148.6v7.4M374.1,218.7h7.4M377.8,215.0v7.4M368.6,210.7h7.4M372.3,207.0v7.4M362.3,201.5h7.4M366.0,197.8v7.4M281.5,153.9h7.4M285.2,150.2v7.4M323.1,163.5h7.4M326.8,159.8v7.4M276.2,155.7h7.4M279.9,152.0v7.4M361.6,200.4h7.4M365.3,196.7v7.4M336.3,173.2h7.4M340.0,169.5v7.4M336.5,176.1h7.4M340.2,172.4v7.4M237.7,177.4h7.4M241.4,173.7v7.4M275.6,154.7h7.4M279.3,151.0v7.4M283.8,153.1h7.4M287.5,149.4v7.4M304.6,154.4h7.4M308.3,150.7v7.4M385.9,232.9h7.4M389.6,229.2v7.4M379.6,222.6h7.4M383.3,218.9v7.4M382.9,228.4h7.4M386.6,224.7v7.4M397.5,249.4h7.4M401.2,245.7v7.4M404.7,260.1h7.4M408.4,256.4v7.4M381.8,228.7h7.4M385.5,225.0v7.4M395.3,244.2h7.4M399.0,240.5v7.4M395.6,246.7h7.4M399.3,243.0v7.4M402.0,255.3h7.4M405.7,251.6v7.4M391.4,241.2h7.4M395.1,237.5v7.4M429.8,299.8h7.4M433.5,296.1v7.4M428.9,299.1h7.4M432.6,295.4v7.4M426.7,294.5h7.4M430.4,290.8v7.4M423.8,289.2h7.4M427.5,285.5v7.4M426.5,294.3h7.4M430.2,290.6v7.4M438.0,311.4h7.4M441.7,307.7v7.4M431.4,301.3h7.4M435.1,297.6v7.4M431.3,301.1h7.4M435.0,297.4v7.4M410.6,270.0h7.4M414.3,266.3v7.4M423.0,289.0h7.4M426.7,285.3v7.4M438.2,310.6h7.4M441.9,306.9v7.4M433.4,308.0h7.4M437.1,304.3v7.4M435.9,309.1h7.4M439.6,305.4v7.4M414.8,276.1h7.4M418.5,272.4v7.4M435.7,309.6h7.4M439.4,305.9v7.4M415.8,278.2h7.4M419.5,274.5v7.4M433.1,304.9h7.4M436.8,301.2v7.4M414.5,275.5h7.4M418.2,271.8v7.4M425.0,293.9h7.4M428.7,290.2v7.4M433.4,304.6h7.4M437.1,300.9v7.4M407.6,264.5h7.4M411.3,260.8v7.4M435.7,308.4h7.4M439.4,304.7v7.4M469.8,355.8h7.4M473.5,352.1v7.4M487.2,373.7h7.4M490.9,370.0v7.4M456.0,338.0h7.4M459.7,334.3v7.4M506.9,389.3h7.4M510.6,385.6v7.4M473.0,361.1h7.4M476.7,357.4v7.4M488.2,374.2h7.4M491.9,370.5v7.4M486.1,373.2h7.4M489.8,369.5v7.4M493.0,379.8h7.4M496.7,376.1v7.4M450.1,327.9h7.4M453.8,324.2v7.4M467.5,351.0h7.4M471.2,347.3v7.4M515.9,394.3h7.4M519.6,390.6v7.4M463.9,349.6h7.4M467.6,345.9v7.4M451.4,332.2h7.4M455.1,328.5v7.4M471.4,358.0h7.4M475.1,354.3v7.4M478.8,364.7h7.4M482.5,361.0v7.4M458.2,341.0h7.4M461.9,337.3v7.4M462.0,345.0h7.4M465.7,341.3v7.4M491.7,378.7h7.4M495.4,375.0v7.4M511.3,392.9h7.4M515.0,389.2v7.4M474.4,359.6h7.4M478.1,355.9v7.4M472.2,358.3h7.4M475.9,354.6v7.4M462.6,345.3h7.4M466.3,341.6v7.4M491.4,377.8h7.4M495.1,374.1v7.4M508.3,389.0h7.4M512.0,385.3v7.4M472.3,359.3h7.4M476.0,355.6v7.4M485.2,370.5h7.4M488.9,366.8v7.4M447.9,326.1h7.4M451.6,322.4v7.4M468.8,354.4h7.4M472.5,350.7v7.4M491.2,378.8h7.4M494.9,375.1v7.4M442.1,316.3h7.4M445.8,312.6v7.4M476.0,363.2h7.4M479.7,359.5v7.4M491.3,376.9h7.4M495.0,373.2v7.4M514.1,389.8h7.4M517.8,386.1v7.4M503.3,387.4h7.4M507.0,383.7v7.4M493.6,379.3h7.4M497.3,375.6v7.4M470.8,356.6h7.4M474.5,352.9v7.4M456.9,338.2h7.4M460.6,334.5v7.4M451.2,331.2h7.4M454.9,327.5v7.4M496.7,381.6h7.4M500.4,377.9v7.4M487.6,374.1h7.4M491.3,370.4v7.4M459.6,341.9h7.4M463.3,338.2v7.4M449.4,330.1h7.4M453.1,326.4v7.4M441.5,315.7h7.4M445.2,312.0v7.4M442.1,320.0h7.4M445.8,316.3v7.4M481.0,368.4h7.4M484.7,364.7v7.4M463.2,347.3h7.4M466.9,343.6v7.4M449.8,329.6h7.4M453.5,325.9v7.4M479.2,366.2h7.4M482.9,362.5v7.4M499.4,384.2h7.4M503.1,380.5v7.4M456.8,337.9h7.4M460.5,334.2v7.4M482.7,371.5h7.4M486.4,367.8v7.4M504.9,387.5h7.4M508.6,383.8v7.4M514.0,394.0h7.4M517.7,390.3v7.4M506.0,388.8h7.4M509.7,385.1v7.4M471.7,357.1h7.4M475.4,353.4v7.4M496.1,381.7h7.4M499.8,378.0v7.4M452.2,332.8h7.4M455.9,329.1v7.4M463.2,347.2h7.4M466.9,343.5v7.4M489.2,375.7h7.4M492.9,372.0v7.4M446.3,324.4h7.4M450.0,320.7v7.4M448.8,327.0h7.4M452.5,323.3v7.4M490.0,377.0h7.4M493.7,373.3v7.4M512.2,393.2h7.4M515.9,389.5v7.4M470.3,356.4h7.4M474.0,352.7v7.4M496.5,382.1h7.4M500.2,378.4v7.4M476.5,362.2h7.4M480.2,358.5v7.4M473.0,359.4h7.4M476.7,355.7v7.4M445.0,322.2h7.4M448.7,318.5v7.4M481.9,369.4h7.4M485.6,365.7v7.4M468.6,353.5h7.4M472.3,349.8v7.4M477.1,363.5h7.4M480.8,359.8v7.4M441.0,314.8h7.4M444.7,311.1v7.4M513.7,391.5h7.4M517.4,387.8v7.4M468.1,353.2h7.4M471.8,349.5v7.4M468.3,354.0h7.4M472.0,350.3v7.4M464.3,347.2h7.4M468.0,343.5v7.4M479.5,366.3h7.4M483.2,362.6v7.4M459.4,342.7h7.4M463.1,339.0v7.4M500.8,387.0h7.4M504.5,383.3v7.4M462.0,344.8h7.4M465.7,341.1v7.4M446.8,323.0h7.4M450.5,319.3v7.4M464.4,348.9h7.4M468.1,345.2v7.4M500.2,385.0h7.4M503.9,381.3v7.4M443.9,321.1h7.4M447.6,317.4v7.4M482.3,369.7h7.4M486.0,366.0v7.4M511.3,395.3h7.4M515.0,391.6v7.4M496.3,383.2h7.4M500.0,379.5v7.4M510.0,390.2h7.4M513.7,386.5v7.4M499.7,386.0h7.4M503.4,382.3v7.4M474.3,360.0h7.4M478.0,356.3v7.4M449.3,329.1h7.4M453.0,325.4v7.4M449.1,326.7h7.4M452.8,323.0v7.4M490.9,377.9h7.4M494.6,374.2v7.4M463.9,348.2h7.4M467.6,344.5v7.4M482.9,369.2h7.4M486.6,365.5v7.4M481.1,368.3h7.4M484.8,364.6v7.4M449.7,330.5h7.4M453.4,326.8v7.4M473.1,360.3h7.4M476.8,356.6v7.4M477.8,363.5h7.4M481.5,359.8v7.4M469.8,355.3h7.4M473.5,351.6v7.4M453.0,334.1h7.4M456.7,330.4v7.4M455.7,337.6h7.4M459.4,333.9v7.4M485.2,371.6h7.4M488.9,367.9v7.4M469.8,357.1h7.4M473.5,353.4v7.4M484.7,372.4h7.4M488.4,368.7v7.4M514.8,394.0h7.4M518.5,390.3v7.4M460.2,341.9h7.4M463.9,338.2v7.4M484.0,370.9h7.4M487.7,367.2v7.4M469.0,354.0h7.4M472.7,350.3v7.4M473.2,360.3h7.4M476.9,356.6v7.4M509.4,391.5h7.4M513.1,387.8v7.4M477.3,363.7h7.4M481.0,360.0v7.4M463.6,346.1h7.4M467.3,342.4v7.4M443.0,319.8h7.4M446.7,316.1v7.4M465.6,351.5h7.4M469.3,347.8v7.4M512.6,392.1h7.4M516.3,388.4v7.4M499.9,386.4h7.4M503.6,382.7v7.4M455.4,338.3h7.4M459.1,334.6v7.4M498.4,383.8h7.4M502.1,380.1v7.4M508.7,388.8h7.4M512.4,385.1v7.4M512.6,393.0h7.4M516.3,389.3v7.4M462.4,345.2h7.4M466.1,341.5v7.4M459.2,345.4h7.4M462.9,341.7v7.4M462.6,346.6h7.4M466.3,342.9v7.4M450.3,330.7h7.4M454.0,327.0v7.4M535.0,398.0h7.4M538.7,394.3v7.4M575.1,382.0h7.4M578.8,378.3v7.4M557.3,391.6h7.4M561.0,387.9v7.4M565.7,391.6h7.4M569.4,387.9v7.4M568.5,388.4h7.4M572.2,384.7v7.4M520.0,394.1h7.4M523.7,390.4v7.4M532.0,398.4h7.4M535.7,394.7v7.4M541.2,398.4h7.4M544.9,394.7v7.4M554.4,398.2h7.4M558.1,394.5v7.4M531.9,397.3h7.4M535.6,393.6v7.4M560.5,392.6h7.4M564.2,388.9v7.4M577.0,380.6h7.4M580.7,376.9v7.4M582.8,376.1h7.4M586.5,372.4v7.4M575.0,381.7h7.4M578.7,378.0v7.4M518.3,394.0h7.4M522.0,390.3v7.4M582.4,378.5h7.4M586.1,374.8v7.4M551.4,398.4h7.4M555.1,394.7v7.4M551.8,395.2h7.4M555.5,391.5v7.4M549.9,394.9h7.4M553.6,391.2v7.4M563.8,392.1h7.4M567.5,388.4v7.4M549.1,395.8h7.4M552.8,392.1v7.4M581.8,378.7h7.4M585.5,375.0v7.4M538.9,398.4h7.4M542.6,394.7v7.4M579.5,376.7h7.4M583.2,373.0v7.4M574.1,384.7h7.4M577.8,381.0v7.4M517.7,396.3h7.4M521.4,392.6v7.4M557.5,393.6h7.4M561.2,389.9v7.4M579.1,378.9h7.4M582.8,375.2v7.4M518.4,393.9h7.4M522.1,390.2v7.4M574.8,383.5h7.4M578.5,379.8v7.4M572.1,386.2h7.4M575.8,382.5v7.4M567.3,390.3h7.4M571.0,386.6v7.4M516.3,391.8h7.4M520.0,388.1v7.4M572.4,384.4h7.4M576.1,380.7v7.4M538.9,398.2h7.4M542.6,394.5v7.4M534.0,397.9h7.4M537.7,394.2v7.4M551.7,396.9h7.4M555.4,393.2v7.4M532.1,396.2h7.4M535.8,392.5v7.4M528.1,396.8h7.4M531.8,393.1v7.4M569.0,386.8h7.4M572.7,383.1v7.4M532.3,398.6h7.4M536.0,394.9v7.4M533.5,398.9h7.4M537.2,395.2v7.4M528.7,397.4h7.4M532.4,393.7v7.4M565.2,388.8h7.4M568.9,385.1v7.4M569.5,387.9h7.4M573.2,384.2v7.4M532.8,398.1h7.4M536.5,394.4v7.4M544.2,396.3h7.4M547.9,392.6v7.4M577.6,381.6h7.4M581.3,377.9v7.4M542.4,396.3h7.4M546.1,392.6v7.4M539.1,396.3h7.4M542.8,392.6v7.4M541.8,398.3h7.4M545.5,394.6v7.4M548.3,395.0h7.4M552.0,391.3v7.4M517.2,395.6h7.4M520.9,391.9v7.4M577.8,381.3h7.4M581.5,377.6v7.4M530.1,395.2h7.4M533.8,391.5v7.4M539.3,400.5h7.4M543.0,396.8v7.4M525.8,397.7h7.4M529.5,394.0v7.4M525.4,400.0h7.4M529.1,396.3v7.4M575.7,383.5h7.4M579.4,379.8v7.4M541.4,401.2h7.4M545.1,397.5v7.4M534.7,397.6h7.4M538.4,393.9v7.4M539.7,398.3h7.4M543.4,394.6v7.4M537.0,397.9h7.4M540.7,394.2v7.4M552.7,394.9h7.4M556.4,391.2v7.4M567.6,391.8h7.4M571.3,388.1v7.4M531.3,398.4h7.4M535.0,394.7v7.4M537.1,397.9h7.4M540.8,394.2v7.4M527.1,400.3h7.4M530.8,396.6v7.4M554.6,395.6h7.4M558.3,391.9v7.4M547.2,394.7h7.4M550.9,391.0v7.4M573.2,385.7h7.4M576.9,382.0v7.4M582.1,377.3h7.4M585.8,373.6v7.4M519.8,396.6h7.4M523.5,392.9v7.4M527.9,399.4h7.4M531.6,395.7v7.4M531.1,397.3h7.4M534.8,393.6v7.4M547.6,398.5h7.4M551.3,394.8v7.4M517.3,394.5h7.4M521.0,390.8v7.4M557.9,393.2h7.4M561.6,389.5v7.4M548.1,397.7h7.4M551.8,394.0v7.4M575.8,383.7h7.4M579.5,380.0v7.4M544.4,399.0h7.4M548.1,395.3v7.4M577.8,381.7h7.4M581.5,378.0v7.4M579.3,378.5h7.4M583.0,374.8v7.4M550.5,398.4h7.4M554.2,394.7v7.4M535.7,397.1h7.4M539.4,393.4v7.4M555.6,392.6h7.4M559.3,388.9v7.4M580.1,379.6h7.4M583.8,375.9v7.4M539.7,397.5h7.4M543.4,393.8v7.4M549.8,395.0h7.4M553.5,391.3v7.4M516.4,394.7h7.4M520.1,391.0v7.4M534.4,399.8h7.4M538.1,396.1v7.4M522.4,396.9h7.4M526.1,393.2v7.4M548.7,398.9h7.4M552.4,395.2v7.4M546.1,400.0h7.4M549.8,396.3v7.4M570.1,386.7h7.4M573.8,383.0v7.4M533.4,395.5h7.4M537.1,391.8v7.4M550.2,397.8h7.4M553.9,394.1v7.4M549.3,395.8h7.4M553.0,392.1v7.4M535.9,397.3h7.4M539.6,393.6v7.4M529.5,399.0h7.4M533.2,395.3v7.4M572.4,384.1h7.4M576.1,380.4v7.4M562.4,395.0h7.4M566.1,391.3v7.4M564.2,389.6h7.4M567.9,385.9v7.4M571.1,388.5h7.4M574.8,384.8v7.4M532.7,397.7h7.4M536.4,394.0v7.4M539.4,398.2h7.4M543.1,394.5v7.4M557.4,391.2h7.4M561.1,387.5v7.4M520.6,397.2h7.4M524.3,393.5v7.4M523.7,393.7h7.4M527.4,390.0v7.4M528.8,397.8h7.4M532.5,394.1v7.4M567.3,386.8h7.4M571.0,383.1v7.4M565.2,390.1h7.4M568.9,386.4v7.4M574.7,383.5h7.4M578.4,379.8v7.4M554.6,397.3h7.4M558.3,393.6v7.4M559.3,394.3h7.4M563.0,390.6v7.4M517.8,394.5h7.4M521.5,390.8v7.4M569.8,386.9h7.4M573.5,383.2v7.4M563.0,389.2h7.4M566.7,385.5v7.4M537.6,398.3h7.4M541.3,394.6v7.4M562.5,390.6h7.4M566.2,386.9v7.4M538.5,395.5h7.4M542.2,391.8v7.4M580.4,380.6h7.4M584.1,376.9v7.4M581.1,378.5h7.4M584.8,374.8v7.4M551.5,397.1h7.4M555.2,393.4v7.4M518.7,393.8h7.4M522.4,390.1v7.4M566.4,390.5h7.4M570.1,386.8v7.4M529.7,398.5h7.4M533.4,394.8v7.4M521.0,396.1h7.4M524.7,392.4v7.4M540.2,401.3h7.4M543.9,397.6v7.4M544.2,398.1h7.4M547.9,394.4v7.4M532.1,401.3h7.4M535.8,397.6v7.4M545.4,396.8h7.4M549.1,393.1v7.4M567.6,390.4h7.4M571.3,386.7v7.4M577.0,382.6h7.4M580.7,378.9v7.4M552.7,393.9h7.4M556.4,390.2v7.4M567.9,388.4h7.4M571.6,384.7v7.4M526.4,398.1h7.4M530.1,394.4v7.4M565.2,390.3h7.4M568.9,386.6v7.4M567.9,389.6h7.4M571.6,385.9v7.4M545.4,399.1h7.4M549.1,395.4v7.4M548.3,394.1h7.4M552.0,390.4v7.4M521.1,396.5h7.4M524.8,392.8v7.4M563.0,391.8h7.4M566.7,388.1v7.4M554.9,394.5h7.4M558.6,390.8v7.4M543.4,398.9h7.4M547.1,395.2v7.4M275.3,145.0h7.4M279.0,141.3v7.4M287.3,144.5h7.4M291.0,140.8v7.4M294.3,146.0h7.4M298.0,142.3v7.4M323.7,152.6h7.4M327.4,148.9v7.4M334.8,163.0h7.4M338.5,159.3v7.4M337.8,166.6h7.4M341.5,162.9v7.4M349.3,179.4h7.4M353.0,175.7v7.4M396.1,239.0h7.4M399.8,235.3v7.4M526.3,388.0h7.4M530.0,384.3v7.4M552.6,403.6h7.4M556.3,399.9v7.4M540.3,405.0h7.4M544.0,401.3v7.4M505.3,382.0h7.4M509.0,378.3v7.4M570.3,378.0h7.4M574.0,374.3v7.4M579.3,371.0h7.4M583.0,367.3v7.4M504.3,395.0h7.4M508.0,391.3v7.4M485.3,378.0h7.4M489.0,374.3v7.4" fill="none" stroke="#000" stroke-width="1.4"/>
<path d="M89.6,97.0l7.2,7.2M89.6,104.2l7.2,-7.2M89.0,100.2l7.2,7.2M89.0,107.4l7.2,-7.2M92.4,106.1l7.2,7.2M92.4,113.3l7.2,-7.2M96.1,120.4l7.2,7.2M96.1,127.6l7.2,-7.2M101.9,121.0l7.2,7.2M101.9,128.2l7.2,-7.2M105.2,126.3l7.2,7.2M105.2,133.5l7.2,-7.2M106.8,127.9l7.2,7.2M106.8,135.1l7.2,-7.2M105.7,126.8l7.2,7.2M105.7,134.0l7.2,-7.2M109.4,127.4l7.2,7.2M109.4,134.6l7.2,-7.2M114.7,133.2l7.2,7.2M114.7,140.4l7.2,-7.2M117.2,145.9l7.2,7.2M117.2,153.1l7.2,-7.2M127.2,177.0l7.2,7.2M127.2,184.2l7.2,-7.2M128.2,178.6l7.2,7.2M128.2,185.8l7.2,-7.2M203.5,369.3l7.2,7.2M203.5,376.5l7.2,-7.2M217.7,399.3l7.2,7.2M217.7,406.5l7.2,-7.2M220.7,405.4l7.2,7.2M220.7,412.6l7.2,-7.2M222.9,410.5l7.2,7.2M222.9,417.7l7.2,-7.2M229.4,429.3l7.2,7.2M229.4,436.5l7.2,-7.2M236.3,434.6l7.2,7.2M236.3,441.8l7.2,-7.2M239.0,433.5l7.2,7.2M239.0,440.7l7.2,-7.2M242.1,438.3l7.2,7.2M242.1,445.5l7.2,-7.2M237.4,445.8l7.2,7.2M237.4,453.0l7.2,-7.2M245.3,450.0l7.2,7.2M245.3,457.2l7.2,-7.2M254.9,453.2l7.2,7.2M254.9,460.4l7.2,-7.2M258.6,461.7l7.2,7.2M258.6,468.9l7.2,-7.2M272.4,456.4l7.2,7.2M272.4,463.6l7.2,-7.2M260.0,461.1l7.2,7.2M260.0,468.3l7.2,-7.2M278.1,468.0l7.2,7.2M278.1,475.2l7.2,-7.2M269.0,475.4l7.2,7.2M269.0,482.6l7.2,-7.2M272.2,475.4l7.2,7.2M272.2,482.6l7.2,-7.2M274.9,474.4l7.2,7.2M274.9,481.6l7.2,-7.2M276.0,477.0l7.2,7.2M276.0,484.2l7.2,-7.2M283.9,478.6l7.2,7.2M283.9,485.8l7.2,-7.2M289.8,472.8l7.2,7.2M289.8,480.0l7.2,-7.2M297.2,476.0l7.2,7.2M297.2,483.2l7.2,-7.2M298.3,478.6l7.2,7.2M298.3,485.8l7.2,-7.2M300.4,479.2l7.2,7.2M300.4,486.4l7.2,-7.2M301.0,475.4l7.2,7.2M301.0,482.6l7.2,-7.2M303.1,473.3l7.2,7.2M303.1,480.5l7.2,-7.2M305.2,474.4l7.2,7.2M305.2,481.6l7.2,-7.2M307.3,472.3l7.2,7.2M307.3,479.5l7.2,-7.2M308.9,470.1l7.2,7.2M308.9,477.3l7.2,-7.2M311.1,470.7l7.2,7.2M311.1,477.9l7.2,-7.2M313.7,468.5l7.2,7.2M313.7,475.7l7.2,-7.2M316.4,466.9l7.2,7.2M316.4,474.1l7.2,-7.2M318.1,464.9l7.2,7.2M318.1,472.1l7.2,-7.2M324.0,455.3l7.2,7.2M324.0,462.5l7.2,-7.2M334.6,444.2l7.2,7.2M334.6,451.4l7.2,-7.2M340.4,437.8l7.2,7.2M340.4,445.0l7.2,-7.2M343.1,435.1l7.2,7.2M343.1,442.3l7.2,-7.2M349.0,421.3l7.2,7.2M349.0,428.5l7.2,-7.2M350.5,418.1l7.2,7.2M350.5,425.3l7.2,-7.2M356.0,408.0l7.2,7.2M356.0,415.2l7.2,-7.2M444.9,188.4l7.2,7.2M444.9,195.6l7.2,-7.2M459.5,143.5l7.2,7.2M459.5,150.7l7.2,-7.2M465.7,129.8l7.2,7.2M465.7,137.0l7.2,-7.2M468.2,128.6l7.2,7.2M468.2,135.8l7.2,-7.2M470.1,126.1l7.2,7.2M470.1,133.3l7.2,-7.2M471.9,124.2l7.2,7.2M471.9,131.4l7.2,-7.2M473.8,128.6l7.2,7.2M473.8,135.8l7.2,-7.2M481.2,109.9l7.2,7.2M481.2,117.1l7.2,-7.2M483.1,108.1l7.2,7.2M483.1,115.3l7.2,-7.2M485.0,110.6l7.2,7.2M485.0,117.8l7.2,-7.2M489.3,99.4l7.2,7.2M489.3,106.6l7.2,-7.2M494.3,88.8l7.2,7.2M494.3,96.0l7.2,-7.2M496.8,87.0l7.2,7.2M496.8,94.2l7.2,-7.2M499.3,88.2l7.2,7.2M499.3,95.4l7.2,-7.2M496.7,88.9l7.2,7.2M496.7,96.1l7.2,-7.2M501.5,65.3l7.2,7.2M501.5,72.5l7.2,-7.2M501.5,75.4l7.2,7.2M501.5,82.6l7.2,-7.2M504.7,78.1l7.2,7.2M504.7,85.3l7.2,-7.2M507.4,72.3l7.2,7.2M507.4,79.5l7.2,-7.2M510.0,72.3l7.2,7.2M510.0,79.5l7.2,-7.2M511.6,70.7l7.2,7.2M511.6,77.9l7.2,-7.2M513.2,69.6l7.2,7.2M513.2,76.8l7.2,-7.2M514.3,71.7l7.2,7.2M514.3,78.9l7.2,-7.2M514.8,58.4l7.2,7.2M514.8,65.6l7.2,-7.2M516.9,62.1l7.2,7.2M516.9,69.3l7.2,-7.2M518.0,66.9l7.2,7.2M518.0,74.1l7.2,-7.2M515.9,73.3l7.2,7.2M515.9,80.5l7.2,-7.2M521.2,71.2l7.2,7.2M521.2,78.4l7.2,-7.2M525.4,71.2l7.2,7.2M525.4,78.4l7.2,-7.2M528.1,62.7l7.2,7.2M528.1,69.9l7.2,-7.2M533.4,64.3l7.2,7.2M533.4,71.5l7.2,-7.2M535.0,65.3l7.2,7.2M535.0,72.5l7.2,-7.2M536.6,66.4l7.2,7.2M536.6,73.6l7.2,-7.2M538.2,65.3l7.2,7.2M538.2,72.5l7.2,-7.2M537.1,68.0l7.2,7.2M537.1,75.2l7.2,-7.2M538.7,69.1l7.2,7.2M538.7,76.3l7.2,-7.2M541.0,57.5l7.2,7.2M541.0,64.7l7.2,-7.2M544.6,59.0l7.2,7.2M544.6,66.2l7.2,-7.2M548.2,60.1l7.2,7.2M548.2,67.3l7.2,-7.2M551.0,72.3l7.2,7.2M551.0,79.5l7.2,-7.2M551.0,68.0l7.2,7.2M551.0,75.2l7.2,-7.2M552.4,70.9l7.2,7.2M552.4,78.1l7.2,-7.2M555.0,73.5l7.2,7.2M555.0,80.7l7.2,-7.2M562.5,74.6l7.2,7.2M562.5,81.8l7.2,-7.2M564.6,72.5l7.2,7.2M564.6,79.7l7.2,-7.2M571.0,80.4l7.2,7.2M571.0,87.6l7.2,-7.2M579.5,91.1l7.2,7.2M579.5,98.3l7.2,-7.2M581.6,93.7l7.2,7.2M581.6,100.9l7.2,-7.2M583.2,96.4l7.2,7.2M583.2,103.6l7.2,-7.2M582.1,101.7l7.2,7.2M582.1,108.9l7.2,-7.2M583.2,104.4l7.2,7.2M583.2,111.6l7.2,-7.2" fill="none" stroke="#000" stroke-width="1.55"/>
<rect x="91.20" y="3.40" width="496.10" height="496.10" fill="none" stroke="#000" stroke-width="2.2"/>
<path d="M190.42,499.50v-7.30M190.42,3.40v7.30M289.64,499.50v-7.30M289.64,3.40v7.30M388.86,499.50v-7.30M388.86,3.40v7.30M488.08,499.50v-7.30M488.08,3.40v7.30M91.20,452.45h7.30M587.30,452.45h-7.30M91.20,334.33h7.30M587.30,334.33h-7.30M91.20,216.21h7.30M587.30,216.21h-7.30M91.20,98.10h7.30M587.30,98.10h-7.30" fill="none" stroke="#000" stroke-width="2.3"/>
<text x="77.1" y="460.55" font-size="23.9" text-anchor="end">-50</text>
<text x="77.1" y="342.43" font-size="23.9" text-anchor="end">0</text>
<text x="77.1" y="224.31" font-size="23.9" text-anchor="end">50</text>
<text x="77.1" y="106.20" font-size="23.9" text-anchor="end">00</text>
<path d="M46.03,106.20 L43.83,106.20 L43.83,94.05 L39.72,94.05 L39.72,92.67 Q43.21,92.45 44.45,89.18 L46.03,89.18 Z" fill="#000"/>
<text x="91.20" y="531.6" font-size="23.6" text-anchor="middle">.0</text>
<text x="190.42" y="531.6" font-size="23.6" text-anchor="middle">.2</text>
<text x="289.64" y="531.6" font-size="23.6" text-anchor="middle">.4</text>
<text x="388.86" y="531.6" font-size="23.6" text-anchor="middle">.6</text>
<text x="488.08" y="531.6" font-size="23.6" text-anchor="middle">.8</text>
<text x="587.30" y="531.6" font-size="23.6" text-anchor="middle">.0</text>
<text class="b" x="340" y="558" font-size="23.6" text-anchor="middle">Phase</text>
<g transform="translate(28.6,322.5) rotate(-90)"><text class="b" x="0" y="0" font-size="23.6">R.V. (km s</text>
<path d="M110.54,-18.9h4.3v2h-4.3zM115.84,-18.9h4.3v2h-4.3z" fill="#000"/>
<path d="M128.59,-11.90 L126.84,-11.90 L126.84,-21.55 L123.57,-21.55 L123.57,-22.65 Q126.35,-22.82 127.33,-25.43 L128.59,-25.43 Z" fill="#000"/>
<text class="b" x="129.86" y="0" font-size="23.6">)</text></g>
<text class="b" x="289.6" y="30.70" font-size="23.78" text-anchor="end">Ba Model</text>
<text class="b" x="289.6" y="54.40" font-size="23.78" text-anchor="end">Bb Model</text>
<text class="b" x="289.6" y="78.10" font-size="23.78" text-anchor="end">Ba (all data)</text>
<text class="b" x="289.6" y="101.80" font-size="23.78" text-anchor="end">Bb (all data)</text>
<path d="M303.7,23H368.1" stroke="#000" stroke-width="1.4"/>
<path d="M303.7,46.5H368.1" stroke="#000" stroke-width="1.3" stroke-dasharray="4.8 2.3"/>
<path d="M332.1,70.2h7.4M335.8,66.5v7.4" fill="none" stroke="#000" stroke-width="1.4"/>
<path d="M332.3,90.3l7.2,7.2M332.3,97.5l7.2,-7.2" fill="none" stroke="#000" stroke-width="1.55"/>
</svg></body></html>
